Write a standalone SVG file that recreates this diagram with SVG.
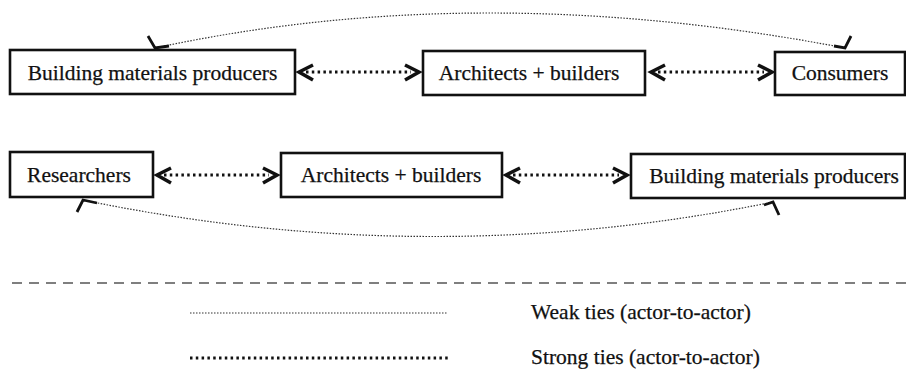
<svg xmlns="http://www.w3.org/2000/svg" width="906" height="369" viewBox="0 0 906 369">
<style>
.box{fill:#fff;stroke:#111;stroke-width:2.6}
text{font-family:'Liberation Serif','DejaVu Serif',serif;font-size:21.5px;fill:#111;stroke:#111;stroke-width:0.25}
.lbl{text-anchor:middle}
.strong{stroke:#111;stroke-width:3.2;stroke-dasharray:2.5 3.3;fill:none}
.chev{stroke:#111;stroke-width:3.5;fill:none;stroke-linejoin:miter}
.weak{stroke:#333;stroke-width:1.2;stroke-dasharray:1.5 1.5;fill:none}
.whead{stroke:#111;stroke-width:2.8;fill:none;stroke-linejoin:miter}
</style>
<rect width="906" height="369" fill="#fff"/>
<g id="connectors">
<path class="weak" d="M155,48 Q480,-22 845,48"/>
<polyline class="whead" points="148,36 155,48 169,46"/>
<polyline class="whead" points="834,46 845,48 851,36"/>
<path class="weak" d="M83,200 Q430,272 773,202"/>
<polyline class="whead" points="77,212 83,200 97,203"/>
<polyline class="whead" points="764,205 773,202 779,215"/>
<line class="strong" x1="306" y1="72" x2="411" y2="72"/>
<polyline class="chev" points="313,65 299,72 313,80"/>
<polyline class="chev" points="405,65 419,72 405,80"/>
<line class="strong" x1="658" y1="72" x2="764" y2="72"/>
<polyline class="chev" points="665,65 651,72 665,80"/>
<polyline class="chev" points="758,65 772,72 758,80"/>
<line class="strong" x1="164" y1="175" x2="269" y2="175"/>
<polyline class="chev" points="171,168 157,175 171,183"/>
<polyline class="chev" points="263,168 277,175 263,183"/>
<line class="strong" x1="513" y1="175" x2="619" y2="175"/>
<polyline class="chev" points="520,168 506,175 520,183"/>
<polyline class="chev" points="613,168 627,175 613,183"/>
</g>
<g id="n1"><rect class="box" x="10" y="50" width="285" height="44"/><text class="lbl" x="152.5" y="80">Building materials producers</text></g>
<g id="n2"><rect class="box" x="423" y="51" width="222" height="44"/><text class="lbl" x="529" y="80">Architects + builders</text></g>
<g id="n3"><rect class="box" x="775" y="52" width="130" height="43"/><text class="lbl" x="840" y="80">Consumers</text></g>
<g id="n4"><rect class="box" x="10" y="152" width="143" height="45"/><text class="lbl" x="79" y="182">Researchers</text></g>
<g id="n5"><rect class="box" x="281" y="153" width="221" height="44"/><text class="lbl" x="391" y="182">Architects + builders</text></g>
<g id="n6"><rect class="box" x="631" y="154" width="274" height="44"/><text class="lbl" x="774" y="183">Building materials producers</text></g>
<g id="legend">
<line x1="12" y1="283" x2="906" y2="283" stroke="#555" stroke-width="1.3" stroke-dasharray="10 7"/>
<line class="weak" x1="190" y1="313" x2="448" y2="313"/>
<line class="strong" x1="190" y1="358" x2="448" y2="358" stroke-dasharray="3 3"/>
<text x="531" y="319">Weak ties (actor-to-actor)</text>
<text x="531" y="364">Strong ties (actor-to-actor)</text>
</g>
</svg>
